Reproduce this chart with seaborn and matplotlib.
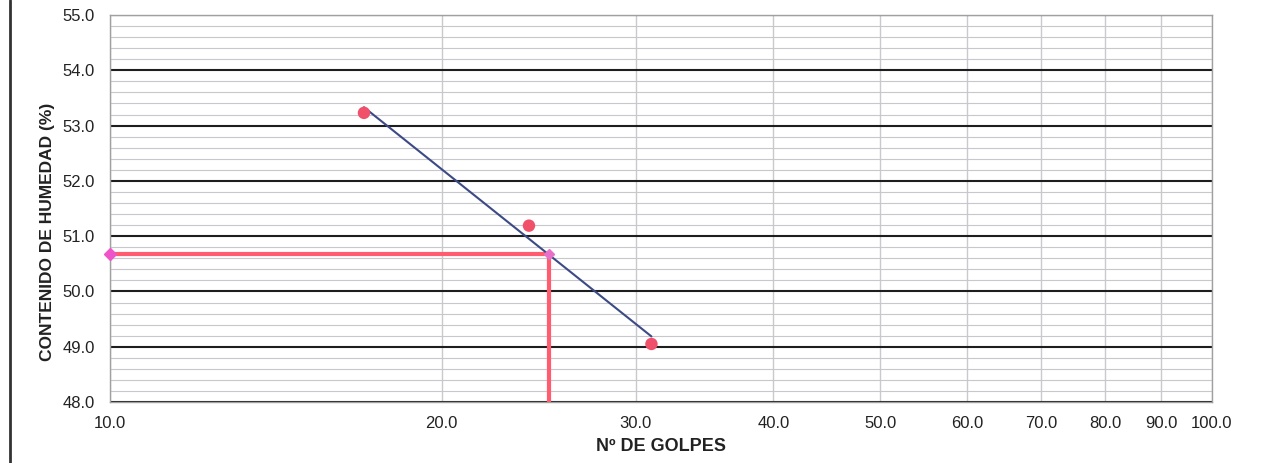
import numpy as np
import pandas as pd
import matplotlib
matplotlib.use("Agg")
import matplotlib.pyplot as plt
from matplotlib.lines import Line2D
from matplotlib.ticker import FixedLocator, NullFormatter, NullLocator
import seaborn as sns

# Liquid-limit test: number of blows vs. moisture content
golpes = [17.0, 24.0, 31.0]
humedad = [53.23, 51.19, 49.05]
golpes_ref = 25.0

x_ticks = [10, 20, 30, 40, 50, 60, 70, 80, 90, 100]
x_tick_labels = ["10.0", "20.0", "30.0", "40.0", "50.0", "60.0", "70.0", "80.0", "90.0", "100.0"]
y_ticks = [48, 49, 50, 51, 52, 53, 54, 55]
y_tick_labels = ["48.0", "49.0", "50.0", "51.0", "52.0", "53.0", "54.0", "55.0"]

sns.set_theme(style="white")
plt.rcParams["font.family"] = ["Liberation Sans", "DejaVu Sans"]

fig = plt.figure(figsize=(12.69, 4.63), dpi=100)
ax = fig.add_axes([0.0867, 0.1317, 0.955 - 0.0867, 0.9676 - 0.1317])

ax.set_xscale("log")
ax.set_xlim(10, 100)
ax.set_ylim(48, 55)

# Grid: light vertical lines, fine horizontal lines every 0.2, bold every 1.0
ax.xaxis.set_major_locator(FixedLocator(x_ticks))
ax.xaxis.set_minor_locator(NullLocator())
ax.xaxis.set_minor_formatter(NullFormatter())
ax.set_xticklabels(x_tick_labels)
ax.set_yticks(y_ticks)
ax.set_yticklabels(y_tick_labels)
ax.set_yticks(np.arange(48, 55.01, 0.2), minor=True)

ax.grid(True, axis="x", which="major", color="#cacace", linewidth=1.0, zorder=0)
ax.grid(True, axis="y", which="minor", color="#c8c8cc", linewidth=0.8, zorder=0)
ax.grid(True, axis="y", which="major", color="#1e1e1e", linewidth=1.5, zorder=1)

for s in ax.spines.values():
    s.set_color("#a0a0a0")
    s.set_linewidth(1.0)

ax.tick_params(axis="both", which="major", labelsize=12, colors="#222222",
               length=3, width=0.8, pad=8)
ax.tick_params(axis="x", which="major", length=0, pad=10)
ax.tick_params(axis="both", which="minor", length=0)

# Logarithmic fit of moisture against blows
lx = np.log10(golpes)
b, a = np.polyfit(lx, humedad, 1)
fit_x = np.array([golpes[0], golpes[-1]])
fit_y = a + b * np.log10(fit_x)
w_ref = a + b * np.log10(golpes_ref)

fit_df = pd.DataFrame({"golpes": fit_x, "humedad": fit_y})
sns.lineplot(data=fit_df, x="golpes", y="humedad", ax=ax, color="#3c4a86",
             linewidth=1.5, zorder=4)

pts = pd.DataFrame({"golpes": golpes, "humedad": humedad})
sns.scatterplot(data=pts, x="golpes", y="humedad", ax=ax, color="#f0506a",
                s=80, edgecolor="none", zorder=5)

# Reading at 25 blows
ax.plot([10, golpes_ref], [w_ref, w_ref], color="#ff5c70", linewidth=3, zorder=3,
        solid_capstyle="butt")
ax.plot([golpes_ref, golpes_ref], [48, w_ref], color="#ff5c70", linewidth=3, zorder=3,
        solid_capstyle="butt")
ax.plot([10], [w_ref], linestyle="none", marker="D",
        markersize=6, color="#ee55c8", zorder=6, clip_on=False)
ax.plot([golpes_ref], [w_ref], linestyle="none", marker="D",
        markersize=5, color="#e870c8", zorder=6)

ax.set_xlabel("Nº DE GOLPES", fontsize=13, fontweight="bold", color="#222222", labelpad=5)
ax.set_ylabel("CONTENIDO DE HUMEDAD (%)", fontsize=12.5, fontweight="bold", color="#222222")
ax.yaxis.set_label_coords(-0.050, 0.44)

# Sheet frame on the left edge
fig.add_artist(Line2D([10 / 1269, 10 / 1269], [0, 1], transform=fig.transFigure,
                      color="#333333", linewidth=2))

fig.savefig("out.png", dpi=100)
